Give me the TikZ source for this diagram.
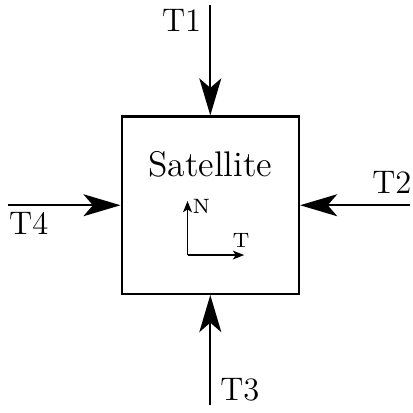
\documentclass[tikz,border=0pt]{standalone}
\usepackage{tikz}
\usetikzlibrary{arrows.meta,positioning}
\definecolor{darkline}{HTML}{000000}
\tikzset{
  satbox/.style={draw=darkline, line width=0.75pt, minimum size=2.1cm, inner sep=0pt},
  thrust/.style={darkline, line width=0.7pt, -{Stealth[length=12.5pt, width=7.4pt, inset=3.2pt]}},
  frameaxis/.style={darkline, line width=0.4pt, -{Stealth[length=3.8pt, width=3pt, inset=1pt]}},
  thrustlabel/.style={inner sep=0pt, font=\fontsize{11}{13}\selectfont},
  axislabel/.style={inner sep=0pt, font=\fontsize{7}{8}\selectfont}
}
\begin{document}
\begin{tikzpicture}
  \useasboundingbox (-2.49,-2.45) rectangle (2.40,2.43);
  % satellite body
  \node[satbox] (sat) at (0,0) {};
  \node[inner sep=0pt] (name) at (0,0.48) {\large Satellite};
  % free ends of the thrusts
  \coordinate (t1start) at (0,2.37);
  \coordinate (t2start) at (2.36,0);
  \coordinate (t3start) at (0,-2.36);
  \coordinate (t4start) at (-2.40,0);
  \draw[thrust] (t1start) -- (sat.north);
  \draw[thrust] (t2start) -- (sat.east);
  \draw[thrust] (t3start) -- (sat.south);
  \draw[thrust] (t4start) -- (sat.west);
  \node[thrustlabel] (t1) at (-0.34,2.19) {T1};
  \node[thrustlabel] (t2) at (2.15,0.27) {T2};
  \node[thrustlabel] (t3) at (0.35,-2.19) {T3};
  \node[thrustlabel] (t4) at (-2.15,-0.21) {T4};
  % local frame
  \coordinate (axo) at (-0.27,-0.59);
  \coordinate (axn) at (-0.27,0.05);
  \coordinate (axt) at (0.40,-0.59);
  \draw[frameaxis] (axo) -- (axn);
  \draw[frameaxis] (axo) -- (axt);
  \node[axislabel, right=1.5pt of axn, yshift=-1.8pt] (nlab) {N};
  \node[axislabel, above=2.5pt of axt, xshift=-1pt] (tlab) {T};
\end{tikzpicture}
\end{document}
